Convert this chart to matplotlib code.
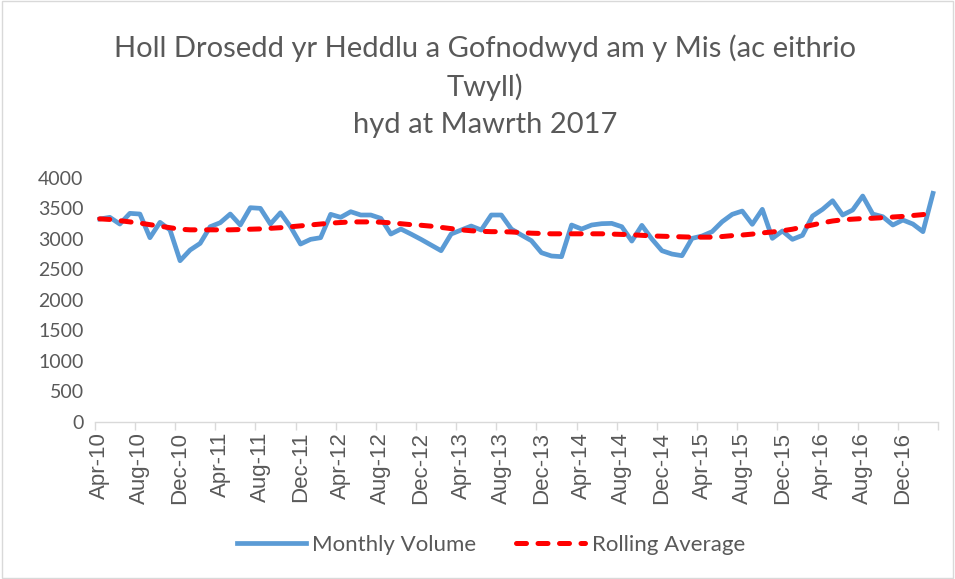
import numpy as np
import matplotlib.pyplot as plt

# monthly recorded crime, Apr-10 .. Mar-17 (84 months)
monthly_volume = [
    3327, 3355, 3245, 3420, 3409, 3021, 3273, 3147, 2644, 2819, 2928, 3201,
    3267, 3409, 3229, 3513, 3502, 3245, 3430, 3201, 2917, 2994, 3021, 3404,
    3355, 3447, 3393, 3393, 3338, 3081, 3163, 3081, 2994, 2901, 2808, 3081,
    3147, 3212, 3147, 3393, 3393, 3163, 3065, 2972, 2775, 2721, 2710, 3229,
    3163, 3229, 3251, 3256, 3201, 2966, 3223, 2999, 2808, 2753, 2726, 3010,
    3049, 3120, 3283, 3404, 3458, 3240, 3486, 3010, 3131, 2994, 3060, 3376,
    3486, 3627, 3393, 3475, 3704, 3409, 3365, 3229, 3311, 3245, 3120, 3748,
]

rolling_average = [
    3330, 3320, 3300, 3280, 3260, 3235, 3210, 3185, 3160, 3150, 3150, 3150,
    3150, 3150, 3155, 3160, 3165, 3175, 3185, 3200, 3215, 3230, 3245, 3260,
    3270, 3280, 3280, 3280, 3275, 3265, 3250, 3235, 3225, 3210, 3190, 3170,
    3150, 3135, 3125, 3120, 3120, 3115, 3105, 3095, 3090, 3085, 3085, 3085,
    3085, 3085, 3085, 3080, 3075, 3070, 3060, 3050, 3045, 3040, 3035, 3030,
    3030, 3030, 3040, 3055, 3065, 3080, 3100, 3115, 3135, 3160, 3195, 3230,
    3265, 3295, 3315, 3325, 3335, 3340, 3350, 3360, 3370, 3385, 3400, 3425,
]

month_labels = ['Apr-10', 'Aug-10', 'Dec-10', 'Apr-11', 'Aug-11', 'Dec-11',
                'Apr-12', 'Aug-12', 'Dec-12', 'Apr-13', 'Aug-13', 'Dec-13',
                'Apr-14', 'Aug-14', 'Dec-14', 'Apr-15', 'Aug-15', 'Dec-15',
                'Apr-16', 'Aug-16', 'Dec-16']

y_ticks = [0, 500, 1000, 1500, 2000, 2500, 3000, 3500, 4000]

title = 'Holl Drosedd yr Heddlu a Gofnodwyd am y Mis (ac eithrio\nTwyll)\nhyd at Mawrth 2017'

grey = '#595959'
plt.rcParams['font.family'] = ['Lato', 'DejaVu Sans']

fig = plt.figure(figsize=(9.55, 5.79), dpi=100)
ax = fig.add_axes([0.0992, 0.2712, 0.8830, 0.4214])

x = np.arange(len(monthly_volume))

ax.plot(x, monthly_volume, color='#5B9BD5', lw=3.4, solid_joinstyle='round',
        label='Monthly Volume')
ax.plot(x, rolling_average, color='#FF0000', lw=3.6, ls=(0, (2.0, 2.3)),
        dash_capstyle='round', label='Rolling Average')

ax.set_xlim(-0.5, len(monthly_volume) - 0.5)
ax.set_ylim(0, 4000)
ax.set_yticks(y_ticks)
ax.tick_params(axis='y', length=0, labelsize=14, labelcolor=grey, pad=8)

# tick marks on category boundaries, labels centred on the months
ax.set_xticks(np.arange(-0.5, len(monthly_volume), 4))
ax.set_xticklabels([])
ax.set_xticks(np.arange(0, len(monthly_volume), 4), minor=True)
ax.set_xticklabels(month_labels, minor=True, rotation=90,
                   family='Liberation Sans', fontsize=16, color=grey)
ax.tick_params(axis='x', which='major', length=6, color='#d9d9d9', width=1)
ax.tick_params(axis='x', which='minor', length=0, pad=7)

for s in ['top', 'right', 'left']:
    ax.spines[s].set_visible(False)
ax.spines['bottom'].set_color('#d9d9d9')
ax.spines['bottom'].set_linewidth(1)

fig.text(0.508, 0.851, title, ha='center', va='center', fontsize=21,
         color=grey, linespacing=1.53)

fig.legend(loc='center', bbox_to_anchor=(0.514, 0.059), ncol=2, frameon=False,
           fontsize=16, labelcolor=grey, handlelength=3.1, columnspacing=1.8,
           handletextpad=0.3)

fig.patches.append(plt.Rectangle((0.002, 0.002), 0.996, 0.996, transform=fig.transFigure,
                                 fill=False, edgecolor='#d9d9d9', lw=1))

plt.savefig('out.png', dpi=100)
